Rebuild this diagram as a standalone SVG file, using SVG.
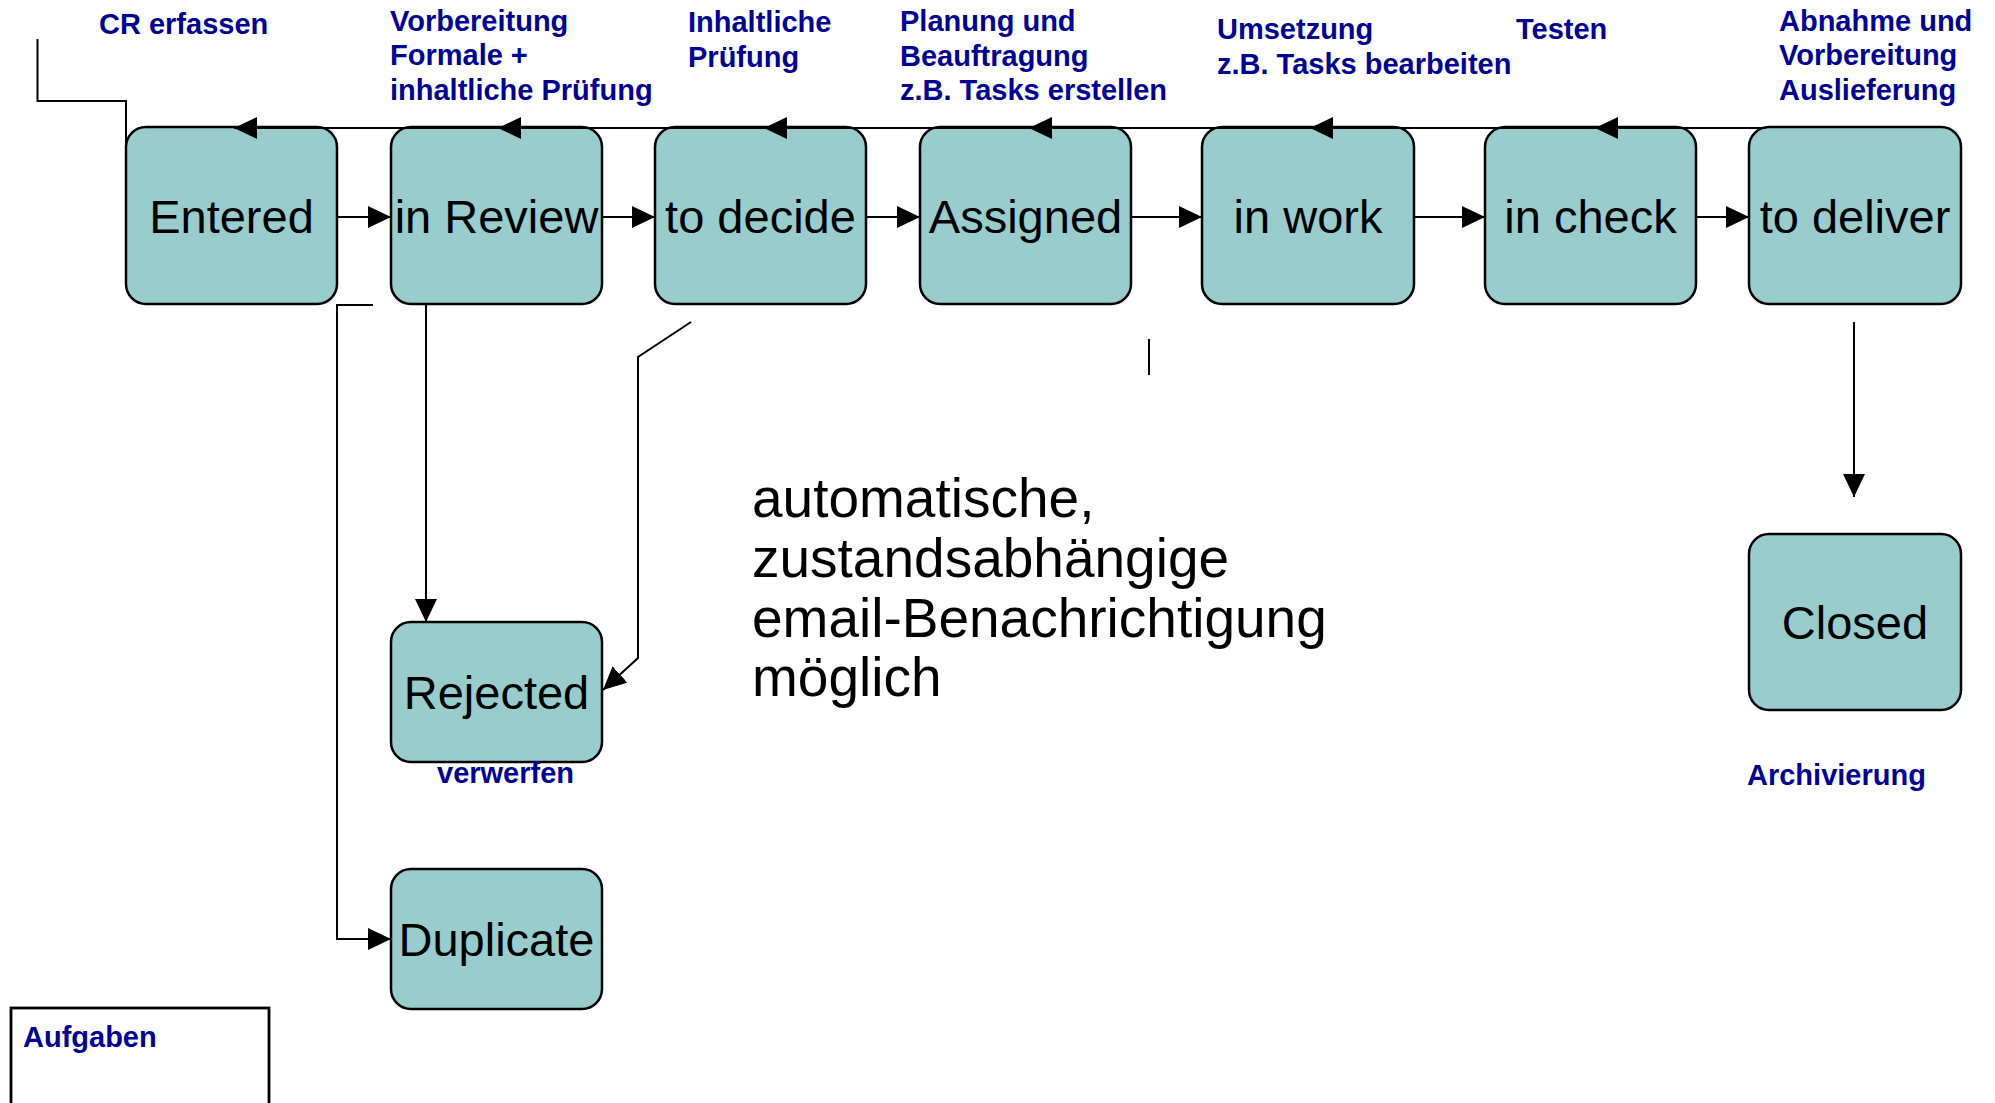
<svg xmlns="http://www.w3.org/2000/svg" width="1995" height="1103" viewBox="0 0 1995 1103">
  <defs>
    <marker id="arrow" markerUnits="userSpaceOnUse" markerWidth="23" markerHeight="22" viewBox="0 0 23 22" refX="23" refY="11" orient="auto">
      <path d="M0,0 L23,11 L0,22 Z" fill="#000"/>
    </marker>
    <style>
      .state rect { fill: #99cccc; stroke: #000; stroke-width: 2.5; }
      .state text { font-family: "Liberation Sans", Arial, sans-serif; font-size: 47px; fill: #000; text-anchor: middle; }
      .conn { fill: none; stroke: #000; stroke-width: 2; }
      .arr { marker-end: url(#arrow); }
      .lbl { font-family: "Liberation Sans", Arial, sans-serif; font-weight: bold; font-size: 29px; fill: #000099; }
      .note { font-family: "Liberation Sans", Arial, sans-serif; font-size: 55px; fill: #000; }
    </style>
  </defs>

  <rect width="1995" height="1103" fill="#fff"/>

  <!-- states -->
  <g id="entered" class="state"><rect x="126" y="127" width="211" height="177" rx="20"/><text x="231.5" y="232.5">Entered</text></g>
  <g id="in-review" class="state"><rect x="391" y="127" width="211" height="177" rx="20"/><text x="496.5" y="232.5">in Review</text></g>
  <g id="to-decide" class="state"><rect x="655" y="127" width="211" height="177" rx="20"/><text x="760.5" y="232.5">to decide</text></g>
  <g id="assigned" class="state"><rect x="920" y="127" width="211" height="177" rx="20"/><text x="1025.5" y="232.5">Assigned</text></g>
  <g id="in-work" class="state"><rect x="1202" y="127" width="212" height="177" rx="20"/><text x="1308" y="232.5">in work</text></g>
  <g id="in-check" class="state"><rect x="1485" y="127" width="211" height="177" rx="20"/><text x="1590.5" y="232.5">in check</text></g>
  <g id="to-deliver" class="state"><rect x="1749" y="127" width="212" height="177" rx="20"/><text x="1855" y="232.5">to deliver</text></g>
  <g id="rejected" class="state"><rect x="391" y="622" width="211" height="140" rx="20"/><text x="496.5" y="708.5">Rejected</text></g>
  <g id="duplicate" class="state"><rect x="391" y="869" width="211" height="140" rx="20"/><text x="496.5" y="955.5">Duplicate</text></g>
  <g id="closed" class="state"><rect x="1749" y="534" width="212" height="176" rx="20"/><text x="1855" y="638.5">Closed</text></g>

  <!-- task box -->
  <g id="aufgaben">
    <rect x="11" y="1008" width="258" height="110" fill="none" stroke="#000" stroke-width="2.8"/>
    <text class="lbl" x="23" y="1047">Aufgaben</text>
  </g>

  <!-- transitions -->
  <g id="connectors">
    <path class="conn" d="M37.5,39 V101 H126 V150"/>
    <!-- forward flow -->
    <path class="conn arr" d="M337,217 H391"/>
    <path class="conn arr" d="M602,217 H655"/>
    <path class="conn arr" d="M866,217 H920"/>
    <path class="conn arr" d="M1131,217 H1202"/>
    <path class="conn arr" d="M1414,217 H1485"/>
    <path class="conn arr" d="M1696,217 H1749"/>
    <!-- return path along the top -->
    <path class="conn arr" d="M1766,128 H1595"/>
    <path class="conn arr" d="M1595,128 H1310"/>
    <path class="conn arr" d="M1310,128 H1029"/>
    <path class="conn arr" d="M1029,128 H764"/>
    <path class="conn arr" d="M764,128 H498"/>
    <path class="conn arr" d="M498,128 H234"/>
    <!-- branches -->
    <path class="conn arr" d="M426,304 V622"/>
    <path class="conn arr" d="M691,322 L638,357 V658 L603,690"/>
    <path class="conn arr" d="M373,305 H337 V939 H391"/>
    <path class="conn arr" d="M1854,322 V497"/>
    <path class="conn" d="M1149,339 V375"/>
  </g>

  <!-- annotations -->
  <g id="labels">
    <text class="lbl" x="99" y="34">CR erfassen</text>
    <text class="lbl"><tspan x="390" y="30.5">Vorbereitung</tspan><tspan x="390" y="65">Formale +</tspan><tspan x="390" y="99.5">inhaltliche Prüfung</tspan></text>
    <text class="lbl"><tspan x="688" y="32">Inhaltliche</tspan><tspan x="688" y="66.5">Prüfung</tspan></text>
    <text class="lbl"><tspan x="900" y="31">Planung und</tspan><tspan x="900" y="65.5">Beauftragung</tspan><tspan x="900" y="100">z.B. Tasks erstellen</tspan></text>
    <text class="lbl"><tspan x="1217" y="39">Umsetzung</tspan><tspan x="1217" y="73.5">z.B. Tasks bearbeiten</tspan></text>
    <text class="lbl" x="1516" y="39">Testen</text>
    <text class="lbl"><tspan x="1779" y="30.5">Abnahme und</tspan><tspan x="1779" y="65">Vorbereitung</tspan><tspan x="1779" y="99.5">Auslieferung</tspan></text>
    <text class="lbl" x="437" y="783">verwerfen</text>
    <text class="lbl" x="1747" y="785">Archivierung</text>
    <text class="note"><tspan x="752" y="517">automatische,</tspan><tspan x="752" y="577">zustandsabhängige</tspan><tspan x="752" y="636.5">email-Benachrichtigung</tspan><tspan x="752" y="696">möglich</tspan></text>
  </g>
</svg>
